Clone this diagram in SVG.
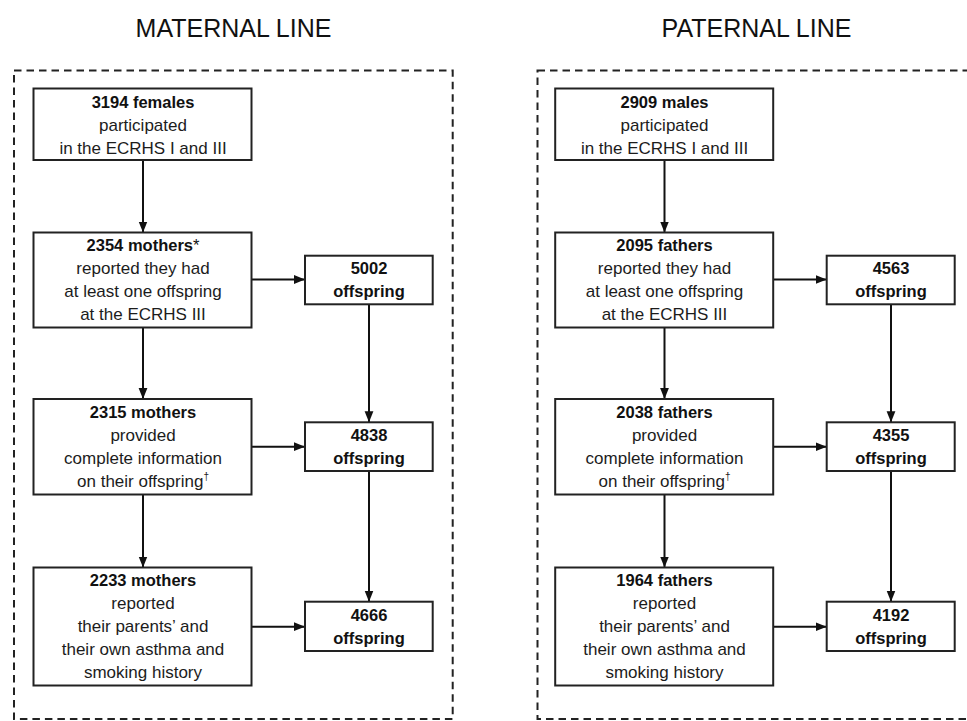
<svg xmlns="http://www.w3.org/2000/svg" width="967" height="721" viewBox="0 0 967 721">
<defs>
<marker id="ah" markerUnits="userSpaceOnUse" markerWidth="11" markerHeight="11" viewBox="0 0 10 10" refX="10" refY="5" orient="auto">
<path d="M0,1 L10,5 L0,9 Z" fill="#111"/>
</marker>
</defs>
<style>
.bg{fill:#fff}
.frame{fill:none;stroke:#222;stroke-width:2;stroke-dasharray:7.5 5}
.box{fill:#fff;stroke:#222;stroke-width:2}
.t{font-family:"Liberation Sans",Arial,sans-serif;font-size:17px;fill:#1c1c1c;text-anchor:middle}
.b{font-weight:bold;font-size:16.5px;fill:#111}
.n{font-weight:normal}
.title{font-family:"Liberation Sans",Arial,sans-serif;font-size:25px;fill:#111;text-anchor:middle}
.sup{font-size:10px}
.c{fill:none;stroke:#111;stroke-width:2;marker-end:url(#ah)}
</style>
<rect class="bg" x="0" y="0" width="967" height="721"/>
<text class="title" x="233.5" y="36.5">MATERNAL LINE</text>
<text class="title" x="756.5" y="36.5">PATERNAL LINE</text>
<rect class="frame" x="14" y="70.5" width="438.7" height="648.5"/>
<rect class="frame" x="537.5" y="70.5" width="440" height="648.5"/>

<g id="connectors">
<line class="c" x1="143" y1="160" x2="143" y2="232.5"/>
<line class="c" x1="143" y1="327.5" x2="143" y2="399"/>
<line class="c" x1="143" y1="494.5" x2="143" y2="567.5"/>
<line class="c" x1="251.5" y1="279.5" x2="305" y2="279.5"/>
<line class="c" x1="251.5" y1="446.7" x2="305" y2="446.7"/>
<line class="c" x1="251.5" y1="626.7" x2="305" y2="626.7"/>
<line class="c" x1="369" y1="304.3" x2="369" y2="422.3"/>
<line class="c" x1="369" y1="471" x2="369" y2="601.7"/>

<line class="c" x1="664.5" y1="160" x2="664.5" y2="232.5"/>
<line class="c" x1="664.5" y1="327.5" x2="664.5" y2="399"/>
<line class="c" x1="664.5" y1="494.5" x2="664.5" y2="567.5"/>
<line class="c" x1="773.3" y1="279.5" x2="826.7" y2="279.5"/>
<line class="c" x1="773.3" y1="446.7" x2="826.7" y2="446.7"/>
<line class="c" x1="773.3" y1="626.7" x2="826.7" y2="626.7"/>
<line class="c" x1="891" y1="304.3" x2="891" y2="422.3"/>
<line class="c" x1="891" y1="471" x2="891" y2="601.7"/>
</g>

<g id="m1"><rect class="box" x="33.5" y="88.5" width="218" height="71.5"/>
<text class="t"><tspan class="b" x="143" y="107.7">3194 females</tspan><tspan x="143" y="130.7">participated</tspan><tspan x="143" y="153.7">in the ECRHS I and III</tspan></text></g>
<g id="m2"><rect class="box" x="33.5" y="232.5" width="218" height="95"/>
<text class="t"><tspan class="b" x="143" y="251">2354 mothers<tspan class="n">*</tspan></tspan><tspan x="143" y="274">reported they had</tspan><tspan x="143" y="297">at least one offspring</tspan><tspan x="143" y="320">at the ECRHS III</tspan></text></g>
<g id="m3"><rect class="box" x="33.5" y="399" width="218" height="95.5"/>
<text class="t"><tspan class="b" x="143" y="417.7">2315 mothers</tspan><tspan x="143" y="440.7">provided</tspan><tspan x="143" y="463.7">complete information</tspan><tspan x="143" y="486.7">on their offspring<tspan class="sup" dy="-7">†</tspan></tspan></text></g>
<g id="m4"><rect class="box" x="33.5" y="567.5" width="218" height="118"/>
<text class="t"><tspan class="b" x="143" y="585.7">2233 mothers</tspan><tspan x="143" y="608.7">reported</tspan><tspan x="143" y="631.7">their parents’ and</tspan><tspan x="143" y="654.7">their own asthma and</tspan><tspan x="143" y="677.7">smoking history</tspan></text></g>
<g id="mo1"><rect class="box" x="305" y="255.7" width="127.7" height="48.6"/>
<text class="t b"><tspan x="369" y="274.3">5002</tspan><tspan x="369" y="297.3">offspring</tspan></text></g>
<g id="mo2"><rect class="box" x="305" y="422.3" width="127.7" height="48.7"/>
<text class="t b"><tspan x="369" y="441">4838</tspan><tspan x="369" y="464">offspring</tspan></text></g>
<g id="mo3"><rect class="box" x="305" y="601.7" width="127.7" height="49.3"/>
<text class="t b"><tspan x="369" y="620.7">4666</tspan><tspan x="369" y="643.7">offspring</tspan></text></g>

<g id="p1"><rect class="box" x="555.2" y="88.5" width="218" height="71.5"/>
<text class="t"><tspan class="b" x="664.5" y="107.7">2909 males</tspan><tspan x="664.5" y="130.7">participated</tspan><tspan x="664.5" y="153.7">in the ECRHS I and III</tspan></text></g>
<g id="p2"><rect class="box" x="555.2" y="232.5" width="218" height="95"/>
<text class="t"><tspan class="b" x="664.5" y="251">2095 fathers</tspan><tspan x="664.5" y="274">reported they had</tspan><tspan x="664.5" y="297">at least one offspring</tspan><tspan x="664.5" y="320">at the ECRHS III</tspan></text></g>
<g id="p3"><rect class="box" x="555.2" y="399" width="218" height="95.5"/>
<text class="t"><tspan class="b" x="664.5" y="417.7">2038 fathers</tspan><tspan x="664.5" y="440.7">provided</tspan><tspan x="664.5" y="463.7">complete information</tspan><tspan x="664.5" y="486.7">on their offspring<tspan class="sup" dy="-7">†</tspan></tspan></text></g>
<g id="p4"><rect class="box" x="555.2" y="567.5" width="218" height="118"/>
<text class="t"><tspan class="b" x="664.5" y="585.7">1964 fathers</tspan><tspan x="664.5" y="608.7">reported</tspan><tspan x="664.5" y="631.7">their parents’ and</tspan><tspan x="664.5" y="654.7">their own asthma and</tspan><tspan x="664.5" y="677.7">smoking history</tspan></text></g>
<g id="po1"><rect class="box" x="826.7" y="255.7" width="128" height="48.6"/>
<text class="t b"><tspan x="891" y="274.3">4563</tspan><tspan x="891" y="297.3">offspring</tspan></text></g>
<g id="po2"><rect class="box" x="826.7" y="422.3" width="128" height="48.7"/>
<text class="t b"><tspan x="891" y="441">4355</tspan><tspan x="891" y="464">offspring</tspan></text></g>
<g id="po3"><rect class="box" x="826.7" y="601.7" width="128" height="49.3"/>
<text class="t b"><tspan x="891" y="620.7">4192</tspan><tspan x="891" y="643.7">offspring</tspan></text></g>
</svg>
